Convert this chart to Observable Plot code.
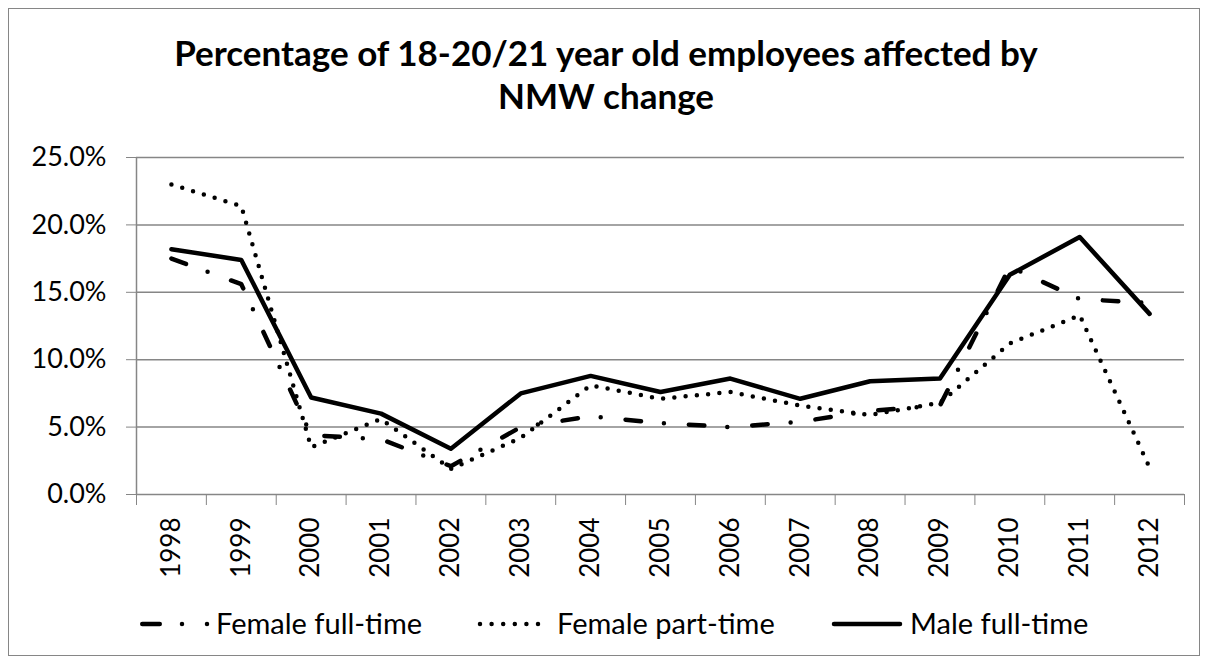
<!DOCTYPE html>
<html>
<head>
<meta charset="utf-8">
<script src="https://cdn.jsdelivr.net/npm/d3@7"></script>
<script src="https://cdn.jsdelivr.net/npm/@observablehq/plot@0.6"></script>
<style>
  html, body { margin: 0; padding: 0; background: #fff; }
  #wrap { position: relative; width: 1208px; height: 664px; overflow: hidden; font-family: Lato, "Open Sans", sans-serif; }
  #border { position: absolute; left: 8px; top: 8px; width: 1190px; height: 646px; border: 1.5px solid #868686; }
  #chart { position: absolute; left: 0; top: 120px; }
  #title, #legend { position: absolute; left: 0; }
  #title { top: 0; }
  #legend { top: 590px; }
</style>
</head>
<body>
<div id="wrap">
  <div id="border"></div>
  <svg id="title" width="1208" height="130"></svg>
  <div id="chart"></div>
  <svg id="legend" width="1208" height="70"></svg>
</div>
<script>
const titleLines = ["Percentage of 18-20/21 year old employees affected by", "NMW change"];
const years = [1998, 1999, 2000, 2001, 2002, 2003, 2004, 2005, 2006, 2007, 2008, 2009, 2010, 2011, 2012];
const femaleFullTime = [17.5, 15.6, 4.4, 4.1, 2.1, 5.0, 5.8, 5.3, 5.0, 5.4, 6.2, 6.6, 16.9, 14.5, 14.2];
const femalePartTime = [23.0, 21.4, 3.5, 5.6, 1.9, 4.2, 8.1, 7.1, 7.6, 6.6, 5.9, 6.8, 11.2, 13.3, 2.0];
const maleFullTime = [18.2, 17.4, 7.2, 6.0, 3.4, 7.5, 8.8, 7.6, 8.6, 7.1, 8.4, 8.6, 16.3, 19.1, 13.4];
const yTicks = [0, 0.05, 0.10, 0.15, 0.20, 0.25];
const seriesNames = ["Female full-time", "Female part-time", "Male full-time"];

const seriesValues = [femaleFullTime, femalePartTime, maleFullTime];
const dashes = ["15.5 23 0 25", "0 11.3", null];
const rows = seriesNames.map((name, i) => years.map((yr, j) => ({series: name, year: yr, value: seriesValues[i][j] / 100})));
const boundaries = [...years.map(y => y - 0.5), years[years.length - 1] + 0.5];

const grid = "#868686";
const chart = Plot.plot({
  width: 1208,
  height: 480,
  marginTop: 37,
  marginBottom: 106,
  marginLeft: 136,
  marginRight: 24,
  x: {domain: [boundaries[0], boundaries[boundaries.length - 1]]},
  y: {domain: [yTicks[0], yTicks[yTicks.length - 1]]},
  style: {fontFamily: "Lato, 'Open Sans', sans-serif", fontSize: "27px", color: "#000", background: "transparent", overflow: "visible"},
  marks: [
    Plot.ruleY(yTicks, {stroke: grid, strokeWidth: 1.5}),
    Plot.ruleX([boundaries[0]], {stroke: grid, strokeWidth: 1.5}),
    Plot.axisY(yTicks, {tickSize: 10, tickPadding: 20, tickFormat: d => (d * 100).toFixed(1) + "%", stroke: grid, fill: "#000", label: null, fontSize: 27}),
    Plot.axisX(boundaries, {tickSize: 11, tickFormat: () => "", stroke: grid, label: null}),
    Plot.axisX(years, {tickSize: 0, tickPadding: 23, tickRotate: -90, tickFormat: d => String(d), fill: "#000", label: null, fontSize: 26}),
    ...rows.map((r, i) => Plot.lineY(r, {
      x: "year", y: "value", stroke: "#000", strokeWidth: 4.5,
      strokeLinecap: "round", strokeLinejoin: "round",
      strokeDasharray: dashes[i] || undefined
    }))
  ]
});
document.getElementById("chart").appendChild(chart);

// Title
const t = d3.select("#title");
t.selectAll("text").data(titleLines).join("text")
  .attr("x", 606).attr("y", (d, i) => 66 + i * 43)
  .attr("text-anchor", "middle")
  .attr("font-family", "Lato, 'Open Sans', sans-serif")
  .attr("font-weight", 700).attr("font-size", 35).attr("fill", "#000")
  .text(d => d);

// Legend (y relative to legend svg top 590)
const lg = d3.select("#legend");
const ly = 44;
const legendItems = [
  {x1: 142.25, x2: 209, dash: "17.5 22.25 0 25 0 100", tx: 216},
  {x1: 480, x2: 539, dash: "0 11.6", tx: 557},
  {x1: 834, x2: 900, dash: null, tx: 910}
];
legendItems.forEach((it, i) => {
  lg.append("line").attr("x1", it.x1).attr("x2", it.x2).attr("y1", ly - 10).attr("y2", ly - 10)
    .attr("stroke", "#000").attr("stroke-width", 4.5).attr("stroke-linecap", "round")
    .attr("stroke-dasharray", it.dash);
  lg.append("text").attr("x", it.tx).attr("y", ly)
    .attr("font-family", "Lato, 'Open Sans', sans-serif").attr("font-size", 29).attr("fill", "#000")
    .text(seriesNames[i]);
});
</script>
</body>
</html>
